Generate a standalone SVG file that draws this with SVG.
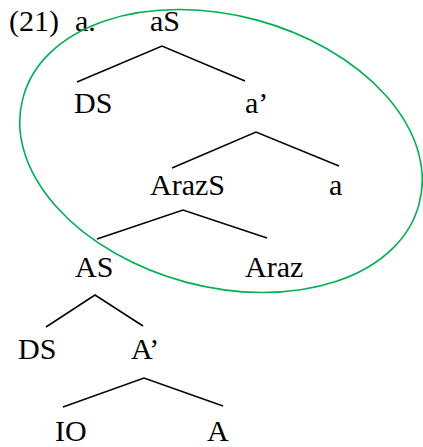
<svg xmlns="http://www.w3.org/2000/svg" width="423" height="447" viewBox="0 0 423 447">
<style>
text{font-family:'Liberation Serif','Times New Roman',serif !important;font-size:30px;fill:#000}
.e{stroke:#000;stroke-width:1.5;fill:none}
</style>
<rect width="423" height="447" fill="#fff"/>
<text x="9" y="31" style="font-family:'Liberation Serif',serif">(21)</text>
<text x="75" y="31" style="font-family:'Liberation Serif',serif">a.</text>
<g id="n-aS"><text x="150" y="31" style="font-family:'Liberation Serif',serif">aS</text></g>
<g id="n-DS1"><text x="74" y="113" style="font-family:'Liberation Serif',serif">DS</text></g>
<g id="n-abar"><text x="245" y="113" style="font-family:'Liberation Serif',serif">a’</text></g>
<g id="n-ArazS"><text x="150" y="195" style="font-family:'Liberation Serif',serif">ArazS</text></g>
<g id="n-a"><text x="329" y="195" style="font-family:'Liberation Serif',serif">a</text></g>
<g id="n-AS"><text x="75" y="277" style="font-family:'Liberation Serif',serif">AS</text></g>
<g id="n-Araz"><text x="245" y="277" style="font-family:'Liberation Serif',serif">Araz</text></g>
<g id="n-DS2"><text x="18" y="359" style="font-family:'Liberation Serif',serif">DS</text></g>
<g id="n-Abar"><text x="131" y="359" style="font-family:'Liberation Serif',serif">A’</text></g>
<g id="n-IO"><text x="55" y="441" style="font-family:'Liberation Serif',serif">IO</text></g>
<g id="n-A"><text x="207" y="441" style="font-family:'Liberation Serif',serif">A</text></g>
<g id="edges">
<path class="e" d="M77,82 L162,46 L245,81"/>
<path class="e" d="M172,168 L256,132 L339,166"/>
<path class="e" d="M97,239 L183,210 L267,238"/>
<path class="e" d="M46,327 L95,295 L143,326"/>
<path class="e" d="M63,407 L144,378 L223,406"/>
</g>
<path d="M419,204.1 A205,135 15 1,1 23,97.9 A205,135 15 1,1 419,204.1 Z" stroke="#00B050" stroke-width="1.6" fill="none"/>
</svg>
